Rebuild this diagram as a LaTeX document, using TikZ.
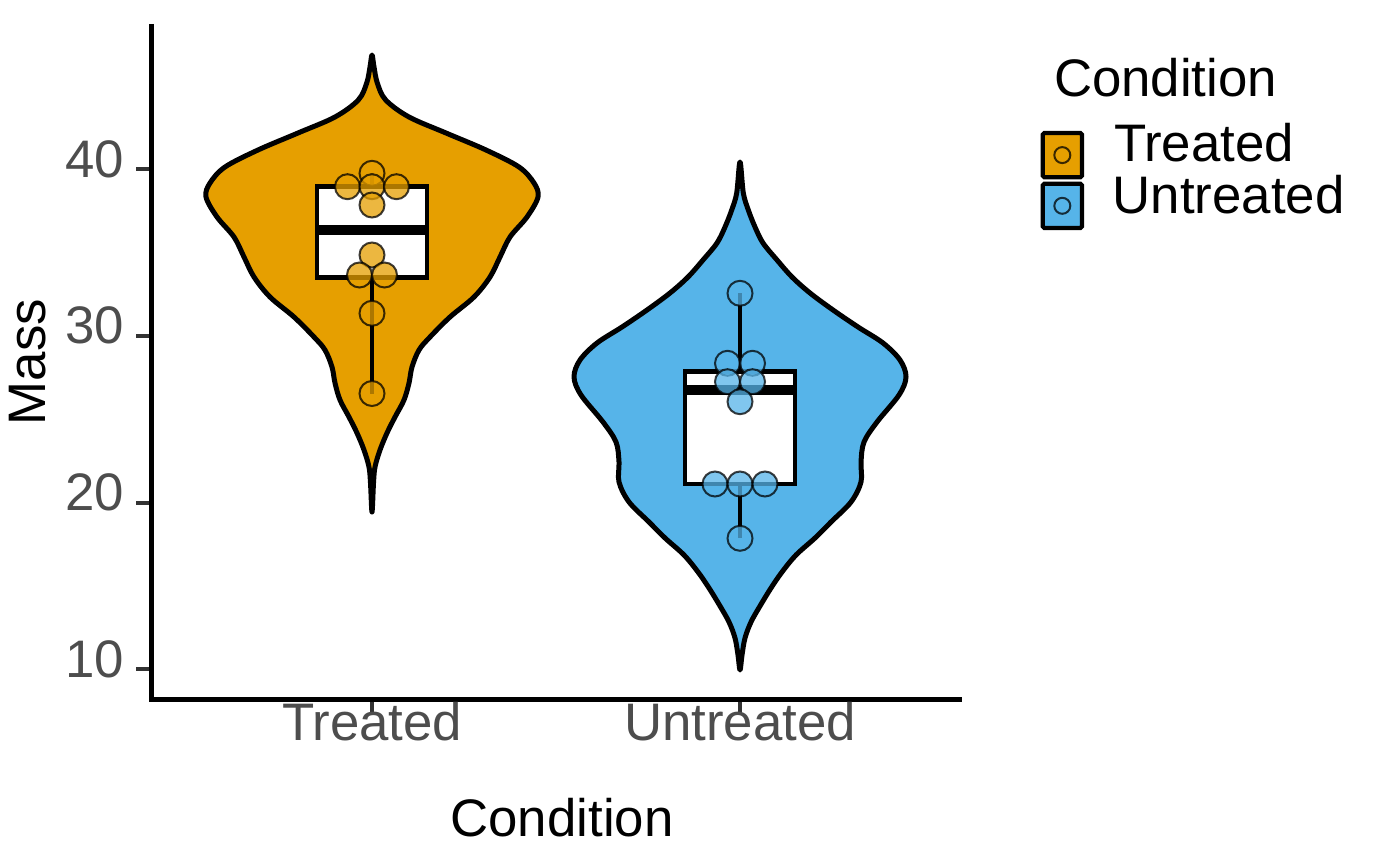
\documentclass[tikz,border=0pt]{standalone}
\usepackage{fontspec}
\setmainfont{Liberation Sans}
\definecolor{orng}{HTML}{E69F00}
\definecolor{skyb}{HTML}{56B4E9}
\definecolor{tickgray}{HTML}{4D4D4D}
\definecolor{tickline}{HTML}{333333}
\begin{document}
\begin{tikzpicture}[x=0.5pt,y=-0.5pt,
  lbl/.style={font=\fontsize{26.4}{31}\selectfont, inner sep=0pt, outer sep=0pt},
  ticklbl/.style={lbl, text=tickgray},
  violin/.style={draw=black, line width=2.5pt, line join=round},
  boxst/.style={draw=black, fill=white, line width=2.4pt},
  medianln/.style={draw=black, line width=5pt},
  whisk/.style={draw=black, line width=2.4pt},
  dotpt/.style={fill=#1, fill opacity=0.75, draw=black, draw opacity=0.75, line width=1pt},
  tk/.style={draw=tickline, line width=2pt},
  axisln/.style={draw=black, line width=2.4pt, line join=miter},
  keybox/.style={draw=black, line width=2.1pt, rounded corners=0.8pt}
]
\useasboundingbox (0,0) rectangle (1400,866);

% ---------- Treated violin ----------
\draw[violin, fill=orng] plot[smooth cycle, tension=0.55] coordinates {
 (372,55) (374,67) (377.3,83) (385.7,100) (409,117) (446,133) (486,150) (519,167)
 (534,183) (538,197) (527,217) (510,237) (500,257) (490,277) (474,297) (450,317)
 (430,337) (419,350) (412,367) (409,383) (404,400) (395,417) (387,433) (380,450)
 (375,467) (373.5,483) (372,512)
 (370.5,483) (369,467) (364,450) (357,433) (349,417) (340,400) (335,383) (332,367)
 (325,350) (314,337) (294,317) (270,297) (254,277) (244,257) (234,237) (217,217)
 (206,197) (210,183) (225,167) (258,150) (298,133) (335,117) (358.3,100) (366.7,83) (370,67)};

% ---------- Untreated violin ----------
\draw[violin, fill=skyb] plot[smooth cycle, tension=0.55] coordinates {
 (740,162) (743.3,193) (748.3,210) (755,227) (763,243) (777,260) (792,277) (810,293)
 (833,310) (858,327) (883,343) (900,360) (906,377) (899,395) (877,422) (864,442)
 (861,462) (861,482) (851,502) (831,522) (815,538) (796,555) (782,572) (771,588)
 (760,606) (751,622) (745,638) (742,655) (740,670)
 (738,655) (735,638) (729,622) (720,606) (709,588) (698,572) (684,555) (665,538)
 (649,522) (629,502) (619,482) (619,462) (616,442) (603,422) (581,395) (574,377)
 (580,360) (597,343) (622,327) (647,310) (670,293) (688,277) (703,260) (717,243)
 (725,227) (731.7,210) (736.7,193)};

% ---------- Treated box ----------
\draw[whisk] (372,186.7) -- (372,172.6);
\draw[whisk] (372,277.3) -- (372,393.5);
\draw[boxst] (317,186.7) rectangle (427,277.3);
\draw[medianln] (317,230) -- (427,230);

% ---------- Untreated box ----------
\draw[whisk] (740,371.7) -- (740,293.3);
\draw[whisk] (740,484) -- (740,538.3);
\draw[boxst] (685,371.7) rectangle (795,484);
\draw[medianln] (685,390) -- (795,390);

% ---------- points ----------
\foreach \px/\py in {372/173.3, 347.5/186.7, 372/186.7, 396.5/186.7, 372/205,
                     372/255, 359.5/275, 384.5/275, 372/313.3, 372/393.5}
  \path[dotpt=orng] (\px,\py) circle[radius=6.25pt];
\foreach \px/\py in {740/293.3, 727.5/363.3, 752.5/363.3, 727.5/381.7, 752.5/381.7,
                     740/401.7, 715/484, 740/484, 765/484, 740/538.3}
  \path[dotpt=skyb] (\px,\py) circle[radius=6.25pt];

% ---------- axes ----------
\foreach \yy in {169.3, 336, 502.7, 669.3}
  \draw[tk] (136,\yy) -- (151.7,\yy);
\foreach \xx in {372.3, 740}
  \draw[tk] (\xx,699.5) -- (\xx,714.5);
\draw[axisln] (151.7,24) -- (151.7,699.5) -- (962,699.5);

\node[ticklbl, anchor=base east] (y40) at (124,177) {40};
\node[ticklbl, anchor=base east] (y30) at (124,343.7) {30};
\node[ticklbl, anchor=base east] (y20) at (124,510.4) {20};
\node[ticklbl, anchor=base east] (y10) at (124,677) {10};

\node[ticklbl, anchor=base] (xtr) at (372.3,740.7) {Treated};
\node[ticklbl, anchor=base] (xun) at (740,740.7) {Untreated};

\node[lbl, anchor=base] (xtitle) at (562,836) {Condition};
\node[lbl, anchor=base, rotate=90] (ytitle) at (45.5,362) {Mass};

% ---------- legend ----------
\node[lbl, anchor=base west] (legtitle) at (1054,96.7) {Condition};
\draw[keybox, fill=orng] (1042.7,133) rectangle (1082,177.3);
\draw[keybox, fill=skyb] (1042.7,183.7) rectangle (1082,228);
\path[dotpt=orng] (1062.3,155.1) circle[radius=4pt];
\path[dotpt=skyb] (1062.3,205.8) circle[radius=4pt];
\node[lbl, anchor=base west] (legtr) at (1114,161.7) {Treated};
\node[lbl, anchor=base west] (legun) at (1112.7,213.3) {Untreated};
\end{tikzpicture}
\end{document}
